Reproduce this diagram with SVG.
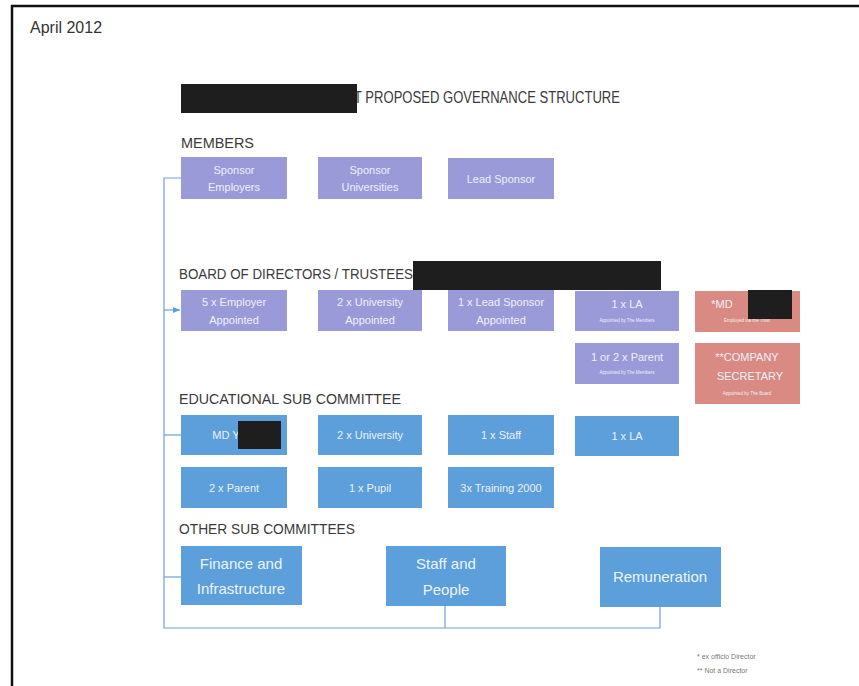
<svg xmlns="http://www.w3.org/2000/svg" width="859" height="686" viewBox="0 0 859 686">
<style>
text{font-family:"Liberation Sans","Open Sans",sans-serif}
.hd{font-size:15px;fill:#3a3a3a}
.lav{fill:#9a9ad8}
.blu{fill:#5c9fda}
.sal{fill:#d98a82}
.bt{font-size:11px;fill:#eef0fa;text-anchor:middle}
.bb{font-size:15px;fill:#eef4fb;text-anchor:middle}
.st{font-size:4.5px;fill:#eef0fa;text-anchor:middle}
.red{fill:#1e1e1e}
.ln{fill:none;stroke:#6f9fd6;stroke-width:1.2}
.fn{font-size:7px;fill:#777}
</style>
<defs>
<marker id="ah" markerWidth="8" markerHeight="8" refX="7" refY="4" orient="auto" markerUnits="userSpaceOnUse">
<path d="M0,1 L7,4 L0,7 Z" fill="#5aa0dc"/>
</marker>
</defs>
<rect width="859" height="686" fill="#fff"/>
<path d="M12,686 V6 H859" fill="none" stroke="#111" stroke-width="2.5"/>
<text x="30" y="33" font-size="16" fill="#333">April 2012</text>

<g id="title">
<text x="354" y="103" font-size="17" fill="#3a3a3a" textLength="266" lengthAdjust="spacingAndGlyphs">T PROPOSED GOVERNANCE STRUCTURE</text>
<rect class="red" x="181" y="84" width="176" height="29"/>
</g>

<g id="headers">
<text class="hd" x="181" y="148" textLength="73" lengthAdjust="spacingAndGlyphs">MEMBERS</text>
<text class="hd" x="179" y="279" textLength="234" lengthAdjust="spacingAndGlyphs">BOARD OF DIRECTORS / TRUSTEES</text>
<rect class="red" x="413" y="261" width="248" height="29"/>
<text class="hd" x="179" y="404" textLength="222" lengthAdjust="spacingAndGlyphs">EDUCATIONAL  SUB COMMITTEE</text>
<text class="hd" x="179" y="534" textLength="176" lengthAdjust="spacingAndGlyphs">OTHER SUB COMMITTEES</text>
</g>

<g id="connectors">
<path class="ln" d="M181,178 H164 V628 H660 V607"/>
<path class="ln" d="M445,628 V606"/>
<path class="ln" d="M164,435 H181"/>
<path class="ln" d="M164,577 H181"/>
<path class="ln" d="M164,310 H180" marker-end="url(#ah)"/>
</g>

<g id="sponsor-employers"><rect class="lav" x="181" y="157" width="106" height="42"/><text class="bt" x="234" y="174">Sponsor</text><text class="bt" x="234" y="191">Employers</text></g>
<g id="sponsor-universities"><rect class="lav" x="318" y="157" width="104" height="42"/><text class="bt" x="370" y="174">Sponsor</text><text class="bt" x="370" y="191">Universities</text></g>
<g id="lead-sponsor"><rect class="lav" x="448" y="158" width="106" height="41"/><text class="bt" x="501" y="183">Lead Sponsor</text></g>

<g id="employer-appointed"><rect class="lav" x="181" y="290" width="106" height="41"/><text class="bt" x="234" y="306">5 x Employer</text><text class="bt" x="234" y="324">Appointed</text></g>
<g id="university-appointed"><rect class="lav" x="318" y="290" width="104" height="41"/><text class="bt" x="370" y="306">2 x University</text><text class="bt" x="370" y="324">Appointed</text></g>
<g id="lead-sponsor-appointed"><rect class="lav" x="448" y="290" width="106" height="41"/><text class="bt" x="501" y="306">1 x Lead Sponsor</text><text class="bt" x="501" y="324">Appointed</text></g>
<g id="board-la"><rect class="lav" x="575" y="291" width="104" height="40"/><text class="bt" x="627" y="308" font-size="12">1 x LA</text><text class="st" x="627" y="322">Appointed by The Members</text></g>
<g id="board-md"><rect class="sal" x="695" y="291" width="105" height="41"/><text class="bt" x="722" y="308">*MD</text><text class="st" x="747" y="322">Employed via the Trust</text><rect class="red" x="748" y="290" width="44" height="29"/></g>
<g id="board-parent"><rect class="lav" x="575" y="343" width="104" height="41"/><text class="bt" x="627" y="361" font-size="12">1 or 2 x Parent</text><text class="st" x="627" y="374">Appointed by The Members</text></g>
<g id="company-secretary"><rect class="sal" x="695" y="343" width="105" height="61"/><text class="bt" x="747" y="361">**COMPANY</text><text class="bt" x="750" y="380">SECRETARY</text><text class="st" x="747" y="395">Appointed by The Board</text></g>

<g id="edu-md"><rect class="blu" x="181" y="415" width="106" height="40"/><text class="bt" x="226" y="439">MD Y</text><rect class="red" x="238" y="421" width="43" height="28"/></g>
<g id="edu-university"><rect class="blu" x="318" y="415" width="104" height="40"/><text class="bt" x="370" y="439">2 x University</text></g>
<g id="edu-staff"><rect class="blu" x="448" y="415" width="106" height="40"/><text class="bt" x="501" y="439">1 x Staff</text></g>
<g id="edu-la"><rect class="blu" x="575" y="416" width="104" height="40"/><text class="bt" x="627" y="440">1 x LA</text></g>
<g id="edu-parent"><rect class="blu" x="181" y="467" width="106" height="41"/><text class="bt" x="234" y="492">2 x Parent</text></g>
<g id="edu-pupil"><rect class="blu" x="318" y="467" width="104" height="41"/><text class="bt" x="370" y="492">1 x Pupil</text></g>
<g id="edu-training"><rect class="blu" x="448" y="467" width="106" height="41"/><text class="bt" x="501" y="492">3x Training  2000</text></g>

<g id="finance"><rect class="blu" x="181" y="546" width="121" height="59"/><text class="bb" x="241" y="569">Finance and</text><text class="bb" x="241" y="594">Infrastructure</text></g>
<g id="staff-people"><rect class="blu" x="386" y="546" width="120" height="60"/><text class="bb" x="446" y="569">Staff and</text><text class="bb" x="446" y="595">People</text></g>
<g id="remuneration"><rect class="blu" x="600" y="547" width="121" height="60"/><text class="bb" x="660" y="582">Remuneration</text></g>

<g id="footnotes">
<text class="fn" x="697" y="659">*  ex officio Director</text>
<text class="fn" x="697" y="673">** Not a Director</text>
</g>
</svg>
